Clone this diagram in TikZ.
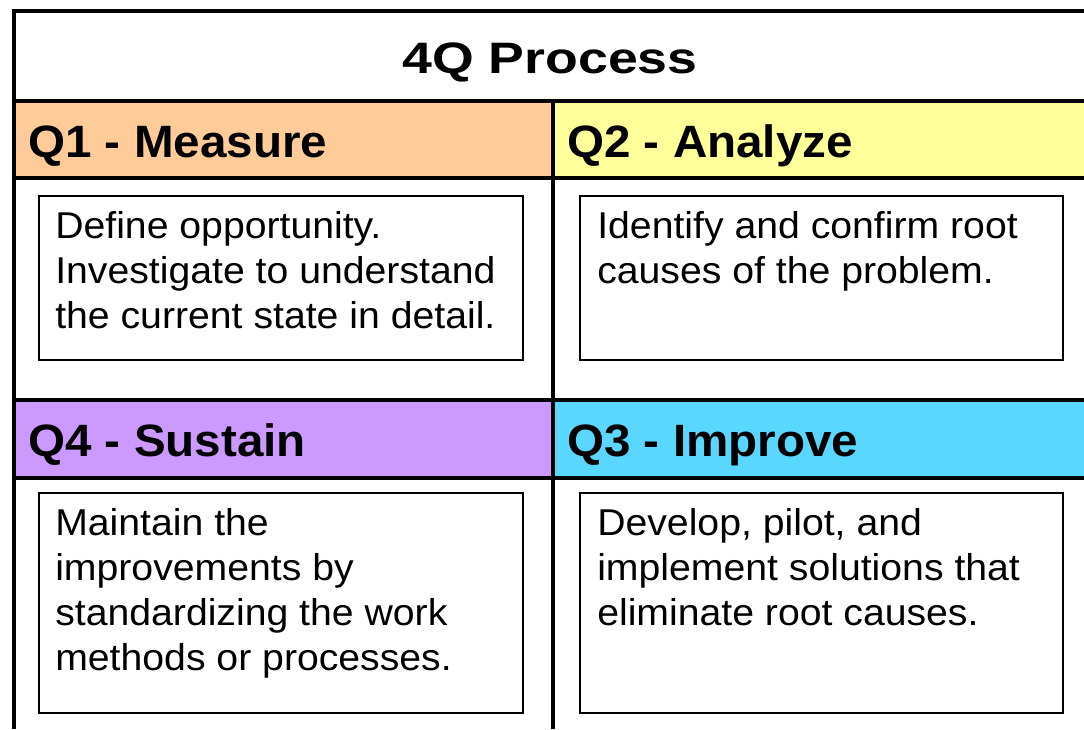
\documentclass[tikz,border=0pt]{standalone}
\usepackage{fontspec}
\setmainfont{Liberation Sans}
\newfontfamily\titlefont[FakeStretch=1.22]{Liberation Sans}
\newfontfamily\hdrfont[FakeStretch=1.05]{Liberation Sans}
\newfontfamily\bodyfont[FakeStretch=1.05]{Liberation Sans}
\definecolor{qone}{HTML}{FFCC99}
\definecolor{qtwo}{HTML}{FFFF99}
\definecolor{qfour}{HTML}{CC99FF}
\definecolor{qthree}{HTML}{5AD7FF}
\tikzset{
  grid line/.style={line width=3pt, black},
  inbox/.style={line width=1.5pt, black},
  hdr/.style={anchor=base west, inner sep=0pt, font=\hdrfont\bfseries\fontsize{34}{40}\selectfont},
  bodytext/.style={anchor=base west, inner sep=0pt, font=\bodyfont\fontsize{28}{33.75}\selectfont},
}
\begin{document}
\begin{tikzpicture}[x=0.75pt, y=-0.75pt]
\useasboundingbox (0,0) rectangle (1084,729);
\fill[white] (0,0) rectangle (1084,729);
% header fills
\fill[qone] (13.5,101) rectangle (553,177.5);
\fill[qtwo] (553,101) rectangle (1084,177.5);
\fill[qfour] (13.5,400) rectangle (553,477.5);
\fill[qthree] (553,400) rectangle (1084,477.5);
% grid lines
\draw[grid line] (1084,10.5) -- (13.5,10.5) -- (13.5,729);
\draw[grid line] (13.5,101) -- (1084,101);
\draw[grid line] (13.5,177.5) -- (1084,177.5);
\draw[grid line] (13.5,400) -- (1084,400);
\draw[grid line] (13.5,477.5) -- (1084,477.5);
\draw[grid line] (553,101) -- (553,729);
% inner boxes
\draw[inbox] (39,196) rectangle (523,360);
\draw[inbox] (580,196) rectangle (1063,360);
\draw[inbox] (39,493) rectangle (523,713);
\draw[inbox] (580,493) rectangle (1063,713);
% title
\node[anchor=base, inner sep=0pt, font=\titlefont\bfseries\fontsize{33}{38}\selectfont] (title) at (550,73) {4Q Process};
% headers
\node[hdr] (h1) at (28,157) {Q1 - Measure};
\node[hdr] (h2) at (567,157) {Q2 - Analyze};
\node[hdr] (h4) at (28,456) {Q4 - Sustain};
\node[hdr] (h3) at (567,456) {Q3 - Improve};
% body texts
\node[bodytext] (t1) at (55,238) {\parbox[t]{470pt}{\raggedright Define opportunity.\\Investigate to understand\\the current state in detail.}};
\node[bodytext] (t2) at (597,238) {\parbox[t]{470pt}{\raggedright Identify and confirm root\\causes of the problem.}};
\node[bodytext] (t4) at (55,535) {\parbox[t]{470pt}{\raggedright Maintain the\\improvements by\\standardizing the work\\methods or processes.}};
\node[bodytext] (t3) at (597,535) {\parbox[t]{470pt}{\raggedright Develop, pilot, and\\implement solutions that\\eliminate root causes.}};
\end{tikzpicture}
\end{document}
